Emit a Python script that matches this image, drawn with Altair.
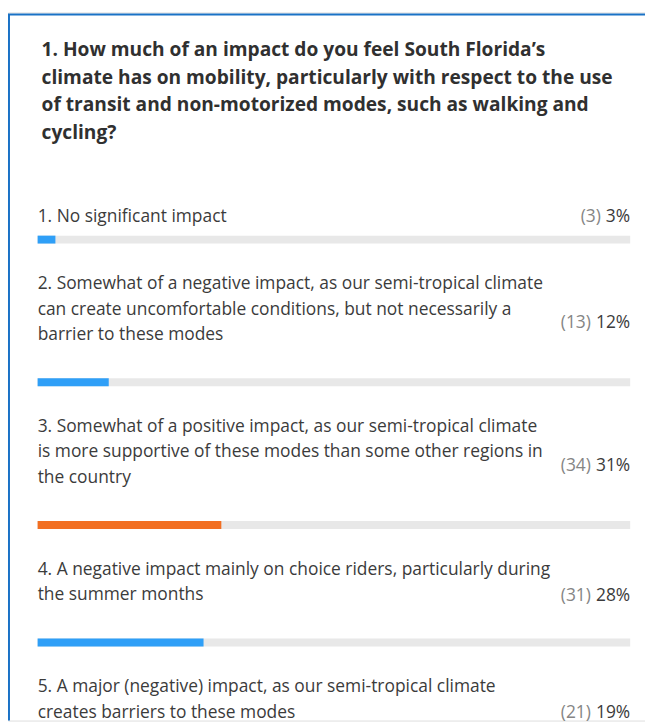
import altair as alt
import pandas as pd

# ---------------- data ----------------
title_lines = [
    "1. How much of an impact do you feel South Florida\u2019s",
    "climate has on mobility, particularly with respect to the use",
    "of transit and non-motorized modes, such as walking and",
    "cycling?",
]
option_labels = [
    ["1. No significant impact"],
    ["2. Somewhat of a negative impact, as our semi-tropical climate",
     "can create uncomfortable conditions, but not necessarily a",
     "barrier to these modes"],
    ["3. Somewhat of a positive impact, as our semi-tropical climate",
     "is more supportive of these modes than some other regions in",
     "the country"],
    ["4. A negative impact mainly on choice riders, particularly during",
     "the summer months"],
    ["5. A major (negative) impact, as our semi-tropical climate",
     "creates barriers to these modes"],
]
counts = [3, 13, 34, 31, 21]
percents = [3, 12, 31, 28, 19]

# ---------------- style ----------------
FONT = "Open Sans"
TITLE_COLOR = "#303030"
TEXT_COLOR = "#3b3b3b"
COUNT_COLOR = "#858585"
BLUE = "#2f9ff7"
ORANGE = "#f26f22"
TRACK = "#e8e8e8"
BORDER = "#1a72c6"
W, H = 645, 717
LEFT, RIGHT = 30, 630
LINE_H = 25.5
LABEL_SIZE = 17.6
TITLE_SIZE = 19.4

top_idx = percents.index(max(percents))

xscale = alt.Scale(domain=[0, 100], range=[LEFT, RIGHT])
layers = []

# border lines
one = pd.DataFrame({"k": [0]})
layers.append(alt.Chart(one).mark_rule(color=BORDER, strokeWidth=2).encode(
    x=alt.value(1), y=alt.value(2), y2=alt.value(H)))
layers.append(alt.Chart(one).mark_rule(color=BORDER, strokeWidth=2).encode(
    x=alt.value(0), x2=alt.value(W), y=alt.value(2)))

# title
layers.append(alt.Chart(one).mark_text(
    text=title_lines, font=FONT, fontSize=TITLE_SIZE, fontWeight="bold",
    color=TITLE_COLOR, align="left", baseline="middle", lineHeight=28,
).encode(x=alt.value(34), y=alt.value(38)))


def pct_width(s):
    return sum(14.6 if c == "%" else 10.1 for c in s)


y0 = 207.0
for i, lines in enumerate(option_labels):
    n = len(lines)
    last = y0 + LINE_H * (n - 1)
    bar_y = last + (23 if n == 1 else 48)
    if n == 1:
        count_y = y0
    else:
        count_y = ((y0 - 12) + (bar_y - 9)) / 2

    layers.append(alt.Chart(one).mark_text(
        text=lines, font=FONT, fontSize=LABEL_SIZE, color=TEXT_COLOR,
        align="left", baseline="middle", lineHeight=LINE_H,
    ).encode(x=alt.value(LEFT), y=alt.value(y0)))

    pct_txt = f"{percents[i]}%"
    layers.append(alt.Chart(one).mark_text(
        text=pct_txt, font=FONT, fontSize=LABEL_SIZE, color=TEXT_COLOR,
        align="right", baseline="middle",
    ).encode(x=alt.value(RIGHT), y=alt.value(count_y)))
    layers.append(alt.Chart(one).mark_text(
        text=f"({counts[i]})", font=FONT, fontSize=LABEL_SIZE, color=COUNT_COLOR,
        align="right", baseline="middle",
    ).encode(x=alt.value(RIGHT - pct_width(pct_txt) - 5), y=alt.value(count_y)))

    bar_df = pd.DataFrame({"start": [0], "full": [100], "pct": [percents[i]],
                           "group": ["top" if i == top_idx else "other"]})
    layers.append(alt.Chart(bar_df).mark_rect(color=TRACK).encode(
        x=alt.X("start:Q", scale=xscale, axis=None), x2="full:Q",
        y=alt.value(bar_y - 4), y2=alt.value(bar_y + 4)))
    layers.append(alt.Chart(bar_df).mark_rect().encode(
        x=alt.X("start:Q", scale=xscale, axis=None), x2="pct:Q",
        y=alt.value(bar_y - 4), y2=alt.value(bar_y + 4),
        color=alt.Color("group:N", scale=alt.Scale(domain=["top", "other"], range=[ORANGE, BLUE]), legend=None)))

    y0 = bar_y + 45.5

chart = alt.layer(*layers).properties(
    width=W, height=H, padding=0, autosize="none"
).configure_view(stroke=None).configure(background="white")

chart.save("out.html", embed_options={"renderer": "svg", "actions": False})
